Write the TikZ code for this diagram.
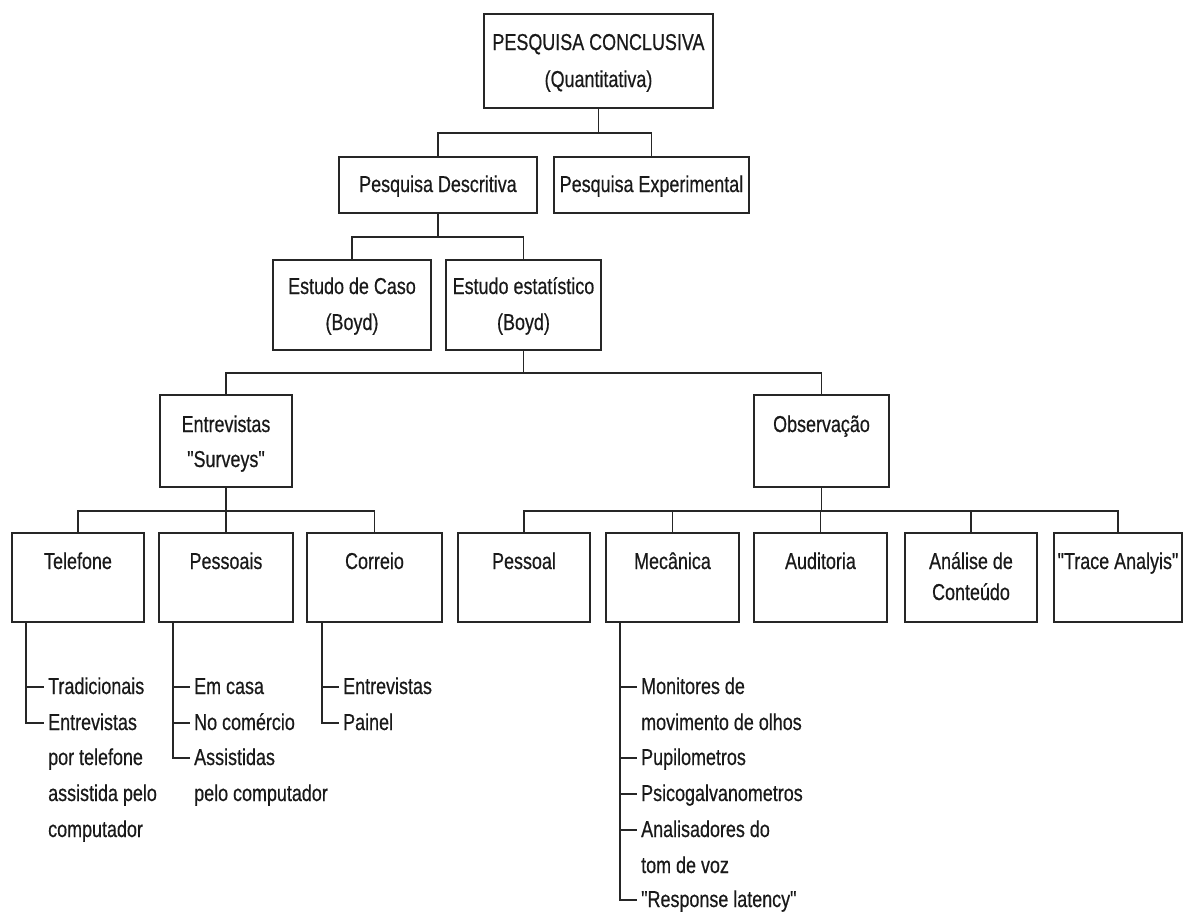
\documentclass[tikz,border=0pt]{standalone}
\usepackage{fontspec}
\setmainfont[FakeStretch=0.78,FakeBold=0.5]{Liberation Sans}
\newfontfamily\qfont[FakeStretch=0.78,FakeBold=0.5]{Liberation Sans}
\newcommand{\dq}{{\qfont\char34}}
\begin{document}
\begin{tikzpicture}[x=1pt,y=-1pt,
  box/.style={draw=black!85, line width=1.6pt, inner sep=0pt},
  txt/.style={inner sep=0pt, font=\fontsize{23}{28}\selectfont, text=black!90},
  conn/.style={draw=black!85, line width=1.6pt, line cap=rect}]
\useasboundingbox (0,0) rectangle (1184,913);
\fill[white] (0,0) rectangle (1184,913);

% ---------- boxes ----------
\node[box, minimum width=229pt, minimum height=94pt] (top) at (598.5,61) {};
\node[box, minimum width=198pt, minimum height=56pt] (desc) at (438,185) {};
\node[box, minimum width=195pt, minimum height=56pt] (exp) at (651.5,185) {};
\node[box, minimum width=158pt, minimum height=90pt] (caso) at (352,305) {};
\node[box, minimum width=155pt, minimum height=90pt] (estat) at (523.5,305) {};
\node[box, minimum width=132pt, minimum height=92pt] (entr) at (226,441) {};
\node[box, minimum width=135pt, minimum height=92pt] (obs) at (821.5,441) {};

\node[box, minimum width=132pt, minimum height=89pt] (tel) at (78,577.5) {};
\node[box, minimum width=134pt, minimum height=89pt] (pess) at (226,577.5) {};
\node[box, minimum width=135pt, minimum height=89pt] (corr) at (374.5,577.5) {};
\node[box, minimum width=132pt, minimum height=89pt] (pessoal) at (524,577.5) {};
\node[box, minimum width=133pt, minimum height=89pt] (mec) at (672.5,577.5) {};
\node[box, minimum width=133pt, minimum height=89pt] (aud) at (820.5,577.5) {};
\node[box, minimum width=132pt, minimum height=89pt] (anal) at (971,577.5) {};
\node[box, minimum width=128pt, minimum height=89pt] (trace) at (1118,577.5) {};

% ---------- box texts ----------
\node[txt, anchor=base] (topA) at (598.5,50) {PESQUISA CONCLUSIVA};
\node[txt, anchor=base] (topB) at (598.5,87) {(Quantitativa)};
\node[txt, anchor=base] (descT) at (438,192) {Pesquisa Descritiva};
\node[txt, anchor=base] (expT) at (651.5,192) {Pesquisa Experimental};
\node[txt, anchor=base] (casoA) at (352,294) {Estudo de Caso};
\node[txt, anchor=base] (casoB) at (352,330) {(Boyd)};
\node[txt, anchor=base] (estatA) at (523.5,294) {Estudo estatístico};
\node[txt, anchor=base] (estatB) at (523.5,330) {(Boyd)};
\node[txt, anchor=base] (entrA) at (226,432) {Entrevistas};
\node[txt, anchor=base] (entrB) at (226,467) {\dq Surveys\dq};
\node[txt, anchor=base] (obsT) at (821.5,432) {Observação};

\node[txt, anchor=base] (telT) at (78,569) {Telefone};
\node[txt, anchor=base] (pessT) at (226,569) {Pessoais};
\node[txt, anchor=base] (corrT) at (374.5,569) {Correio};
\node[txt, anchor=base] (pessoalT) at (524,569) {Pessoal};
\node[txt, anchor=base] (mecT) at (672.5,569) {Mecânica};
\node[txt, anchor=base] (audT) at (820.5,569) {Auditoria};
\node[txt, anchor=base] (analA) at (971,569) {Análise de};
\node[txt, anchor=base] (analB) at (971,600) {Conteúdo};
\node[txt, anchor=base] (traceT) at (1118,569) {\dq Trace Analyis\dq};

% ---------- tree connectors ----------
\draw[conn] (top.south) -- ++(0,24) coordinate (j1);
\draw[conn] (desc.north) |- (j1 -| exp.north) -- (exp.north);
\draw[conn] (desc.south) -- ++(0,23) coordinate (j2);
\draw[conn] (caso.north) |- (j2 -| estat.north) -- (estat.north);
\draw[conn] (estat.south) -- ++(0,22) coordinate (j3);
\draw[conn] (entr.north) |- (j3 -| obs.north) -- (obs.north);
\draw[conn] (entr.south) -- ++(0,23) coordinate (j4);
\draw[conn] (tel.north) |- (j4 -| corr.north) -- (corr.north);
\draw[conn] (j4 -| pess.north) -- (pess.north);
\draw[conn] (obs.south) -- ++(0,23) coordinate (j5);
\draw[conn] (pessoal.north) |- (j5 -| trace.north) -- (trace.north);
\foreach \n in {mec,aud,anal} \draw[conn] (j5 -| \n.north) -- (\n.north);

% ---------- lists ----------
\tikzset{item/.style={txt, anchor=base west}}
% Telefone
\node[item] (telA) at (48,694) {Tradicionais};
\node[item] (telB) at (48,730) {Entrevistas};
\node[item] (telC) at (48,765) {por telefone};
\node[item] (telD) at (48,801) {assistida pelo};
\node[item] (telE) at (48,837) {computador};
\coordinate (telV) at ([xshift=15pt]tel.south west);
\draw[conn] (telV) |- ([xshift=-5pt,yshift=7pt]telB.base west);
\draw[conn] (telV |- 0,687) -- ([xshift=-5pt,yshift=7pt]telA.base west);

% Pessoais
\node[item] (pessA) at (194,694) {Em casa};
\node[item] (pessB) at (194,730) {No comércio};
\node[item] (pessC) at (194,765) {Assistidas};
\node[item] (pessD) at (194,801) {pelo computador};
\coordinate (pessV) at ([xshift=15pt]pess.south west);
\draw[conn] (pessV) |- ([xshift=-5pt,yshift=7pt]pessC.base west);
\draw[conn] (pessV |- 0,687) -- ([xshift=-5pt,yshift=7pt]pessA.base west);
\draw[conn] (pessV |- 0,723) -- ([xshift=-5pt,yshift=7pt]pessB.base west);

% Correio
\node[item] (corrA) at (343,694) {Entrevistas};
\node[item] (corrB) at (343,730) {Painel};
\coordinate (corrV) at ([xshift=16pt]corr.south west);
\draw[conn] (corrV) |- ([xshift=-5pt,yshift=7pt]corrB.base west);
\draw[conn] (corrV |- 0,687) -- ([xshift=-5pt,yshift=7pt]corrA.base west);

% Mecanica
\node[item] (mecA) at (641,694) {Monitores de};
\node[item] (mecB) at (641,730) {movimento de olhos};
\node[item] (mecC) at (641,765) {Pupilometros};
\node[item] (mecD) at (641,801) {Psicogalvanometros};
\node[item] (mecE) at (641,837) {Analisadores do};
\node[item] (mecF) at (641,873) {tom de voz};
\node[item] (mecG) at (641,907) {\dq Response latency\dq};
\coordinate (mecV) at ([xshift=15pt]mec.south west);
\draw[conn] (mecV) |- ([xshift=-5pt,yshift=7pt]mecG.base west);
\draw[conn] (mecV |- 0,687) -- ([xshift=-5pt,yshift=7pt]mecA.base west);
\draw[conn] (mecV |- 0,758) -- ([xshift=-5pt,yshift=7pt]mecC.base west);
\draw[conn] (mecV |- 0,794) -- ([xshift=-5pt,yshift=7pt]mecD.base west);
\draw[conn] (mecV |- 0,830) -- ([xshift=-5pt,yshift=7pt]mecE.base west);
\end{tikzpicture}
\end{document}
